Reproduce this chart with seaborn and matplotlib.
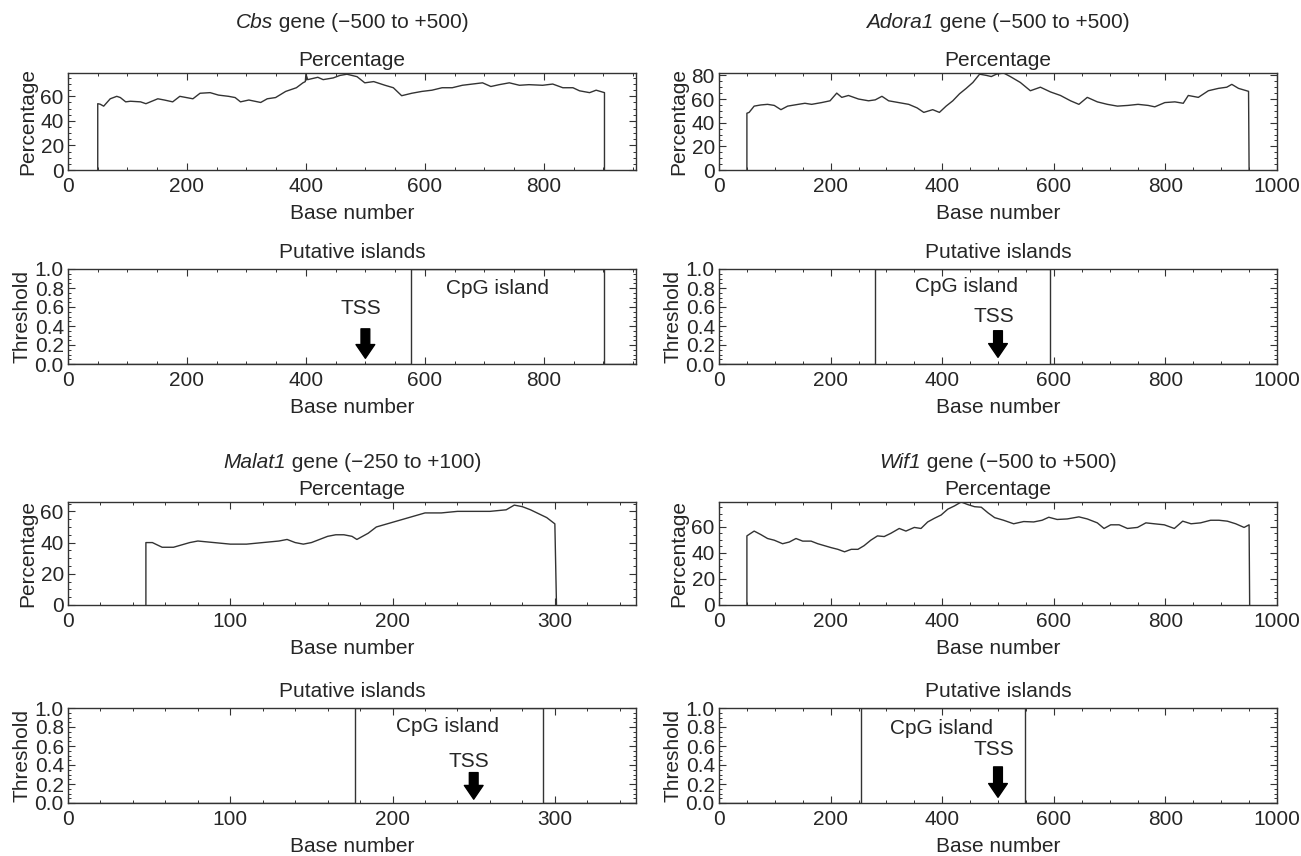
import numpy as np
import pandas as pd
import matplotlib
matplotlib.use('Agg')
import matplotlib.pyplot as plt
from matplotlib.ticker import MultipleLocator, FormatStrFormatter
import seaborn as sns

# ---- data ----
genes = ['Cbs', 'Adora1', 'Malat1', 'Wif1']
windows = ['(\u2212500 to +500)', '(\u2212500 to +500)', '(\u2212250 to +100)', '(\u2212500 to +500)']
seq_len = [955, 1000, 350, 1000]
tss = [500, 500, 250, 500]

cbs_pos = [50, 50, 54, 60, 71, 82, 88, 97, 105, 122, 131, 151, 162, 176, 188, 199, 210, 222, 239,
           253, 270, 281, 290, 304, 324, 335, 349, 366, 384, 395, 399, 400, 403, 420, 429, 446, 457,
           469, 486, 499, 514, 533, 547, 561, 578, 595, 612, 629, 646, 663, 680, 697, 711, 725, 742,
           759, 775, 798, 815, 832, 849, 860, 877, 888, 902, 902]
cbs_pct = [0, 54, 53.6, 52, 58, 60, 59, 55.5, 56, 55.5, 54, 58, 57, 55.5, 60, 59, 58, 62.5, 63,
           61, 60, 59, 55.5, 57, 55, 58, 59, 64, 67, 71, 72, 78, 73.6, 75.5, 73.6, 75, 77,
           78, 76, 71, 72, 69, 67, 60.5, 62.5, 64, 65, 67, 67, 69, 70, 71, 68, 69.5, 71,
           69, 69.5, 69, 70, 67, 67, 64.5, 63, 65, 63, 0]

adora1_pos = [50, 50, 54, 63, 75, 87, 99, 111, 123, 142, 154, 166, 184, 199, 211, 220, 232, 250,
              268, 280, 292, 304, 322, 340, 355, 367, 383, 395, 407, 419, 431, 443, 455, 467, 479,
              488, 497, 510, 522, 540, 558, 576, 594, 612, 630, 645, 660, 678, 696, 714, 733,
              751, 769, 781, 799, 817, 832, 841, 859, 877, 895, 910, 919, 931, 949, 950]
adora1_pct = [0, 48, 48.7, 54, 55, 55.5, 54.6, 51, 54, 55.5, 56.4, 55.5, 57, 58.5, 65, 61.4, 63, 60,
              58.5, 59.3, 62.3, 58.5, 57, 55.5, 52.5, 48.7, 51, 48.7, 54, 58.5, 64.4, 69, 74, 81, 80,
              79, 81, 82, 79, 74, 67, 70, 66, 63, 58.5, 55.5, 61.4, 57.6, 55.5, 54, 54.6,
              55.5, 54.6, 53.4, 57, 57.6, 56.4, 63, 61.4, 67, 69, 70, 72.4, 69, 66.5, 0]

malat1_pos = [48, 48, 52, 58, 65, 75, 80, 90, 100, 110, 120, 130, 135, 140, 145, 150, 160, 165,
              170, 175, 178, 185, 190, 200, 210, 220, 230, 240, 250, 260, 270, 275, 280, 285,
              295, 300, 301]
malat1_pct = [0, 40, 40, 37, 37, 40, 41, 40, 39, 39, 40, 41, 42, 40, 39, 40, 44, 45,
              45, 44, 42, 46, 50, 53, 56, 59, 59, 60, 60, 60, 61, 64, 63, 61,
              56, 52, 0]

wif1_pos = [50, 50, 57, 63, 75, 87, 99, 114, 126, 138, 150, 165, 177, 189, 201, 213, 225, 237, 249,
            260, 272, 284, 296, 308, 323, 335, 350, 362, 374, 386, 398, 410, 422, 434, 446, 458,
            470, 482, 494, 510, 528, 546, 564, 579, 591, 606, 624, 645, 660, 678, 690, 702, 717,
            732, 750, 765, 780, 798, 816, 831, 846, 863, 881, 896, 911, 926, 941, 950, 951]
wif1_pct = [0, 53, 55, 56.7, 54, 51, 49.7, 47, 48.3, 51, 49, 49, 47, 45.5, 44, 42.7, 40.8, 42.7, 42.7,
            45.5, 49.7, 53, 52.5, 55, 58.7, 56.7, 59.5, 58.7, 63.7, 66.5, 69, 73.5, 76, 79, 77, 75.4,
            75, 70.7, 67, 65, 62.3, 64, 63.7, 65, 67.3, 65.6, 66, 67.6, 66, 63, 58.7, 61.5, 61.5,
            58.7, 59.5, 63, 62.3, 61.5, 58.7, 64.3, 62.3, 63, 65, 65, 64.3, 62.3, 59.5, 61.5, 0]

island_start = [577, 280, 177, 255]
island_end = [901, 594, 293, 549]

# ---- styling ----
W, H = 1301, 856
sns.set_theme(style='ticks')
plt.rcParams['font.family'] = ['Liberation Sans', 'DejaVu Sans']
FS = 15
LINE = '#333333'

pct_data = [(cbs_pos, cbs_pct), (adora1_pos, adora1_pct), (malat1_pos, malat1_pct), (wif1_pos, wif1_pct)]
pct_ylim = [79, 82, 66, 79]
x_major = [200, 200, 100, 200]
x_minor = [50, 50, 20, 50]
cpg_text_xy = [(722, 0.80), (443, 0.82), (234, 0.80), (398, 0.78)]
tss_text_y = [0.58, 0.50, 0.44, 0.56]
arrow_y = [(0.37, 0.06), (0.35, 0.07), (0.32, 0.04), (0.38, 0.06)]

# pixel boxes (left, right) for columns and (top, bottom) for rows
cols = [(68, 636), (719, 1277)]
pct_rows = [(73, 170), (502, 605)]
thr_rows = [(269, 364), (708, 803)]
title_y = [22, 462]


def px_box(col, row):
    l, r = col
    t, b = row
    return [l / W, 1 - b / H, (r - l) / W, (b - t) / H]


def style_axes(ax, xmax, xmaj, xmin):
    ax.set_xlim(0, xmax)
    ax.xaxis.set_major_locator(MultipleLocator(xmaj))
    ax.xaxis.set_minor_locator(MultipleLocator(xmin))
    ax.tick_params(which='both', direction='in', top=True, right=True,
                   labelsize=FS, color=LINE)
    ax.tick_params(axis='x', pad=5)
    ax.tick_params(axis='y', pad=3)
    ax.tick_params(which='major', length=5, width=0.8)
    ax.tick_params(which='minor', length=2.5, width=0.7)
    for s in ax.spines.values():
        s.set_color(LINE)
        s.set_linewidth(1.0)
    ax.set_xlabel('Base number', fontsize=FS, labelpad=6)


def gene_title(fig, xc, y, gene, window):
    # italic gene name followed by upright text, centred together
    r = fig.canvas.get_renderer()
    t1 = fig.text(0, y, gene, style='italic', fontsize=FS, ha='left', va='center')
    t2 = fig.text(0, y, ' gene ' + window, fontsize=FS, ha='left', va='center')
    w1 = t1.get_window_extent(r).width / W
    w2 = t2.get_window_extent(r).width / W
    x0 = xc - (w1 + w2) / 2
    t1.set_x(x0)
    t2.set_x(x0 + w1)


fig = plt.figure(figsize=(W / 100, H / 100), dpi=100)

for i, gene in enumerate(genes):
    col = cols[i % 2]
    row = i // 2

    gene_title(fig, (col[0] + col[1]) / 2 / W, 1 - title_y[row] / H, gene, windows[i])

    # percentage panel
    ax = fig.add_axes(px_box(col, pct_rows[row]))
    pos, pct = pct_data[i]
    df = pd.DataFrame({'Base number': pos, 'Percentage': pct})
    sns.lineplot(data=df, x='Base number', y='Percentage', ax=ax, color=LINE,
                 linewidth=1.0, estimator=None, sort=False)
    ax.set_ylim(0, pct_ylim[i])
    ax.yaxis.set_major_locator(MultipleLocator(20))
    ax.yaxis.set_minor_locator(MultipleLocator(5))
    style_axes(ax, seq_len[i], x_major[i], x_minor[i])
    ax.set_ylabel('Percentage', fontsize=FS, labelpad=2)
    ax.set_title('Percentage', fontsize=FS, pad=5)

    # putative islands panel
    ax2 = fig.add_axes(px_box(col, thr_rows[row]))
    s, e = island_start[i], island_end[i]
    thr = pd.DataFrame({'Base number': [0, s, s, e, e, seq_len[i]],
                        'Threshold': [0, 0, 1, 1, 0, 0]})
    sns.lineplot(data=thr, x='Base number', y='Threshold', ax=ax2, color=LINE,
                 linewidth=1.0, estimator=None, sort=False)
    ax2.set_ylim(0, 1)
    ax2.yaxis.set_major_locator(MultipleLocator(0.2))
    ax2.yaxis.set_minor_locator(MultipleLocator(0.05))
    ax2.yaxis.set_major_formatter(FormatStrFormatter('%.1f'))
    style_axes(ax2, seq_len[i], x_major[i], x_minor[i])
    ax2.set_ylabel('Threshold', fontsize=FS, labelpad=2)
    ax2.set_title('Putative islands', fontsize=FS, pad=8)

    cx, cy = cpg_text_xy[i]
    ax2.text(cx, cy, 'CpG island', ha='center', va='center', fontsize=FS)
    ax2.text(tss[i] - 8 * seq_len[i] / 1000, tss_text_y[i], 'TSS', ha='center', va='center', fontsize=FS)
    y0, y1 = arrow_y[i]
    ax2.annotate('', xy=(tss[i], y1), xytext=(tss[i], y0),
                 arrowprops=dict(arrowstyle='simple,head_length=0.55,head_width=0.75,tail_width=0.35',
                                 fc='black', ec='black', mutation_scale=18, shrinkA=0, shrinkB=0))

fig.savefig('out.png', dpi=100)
